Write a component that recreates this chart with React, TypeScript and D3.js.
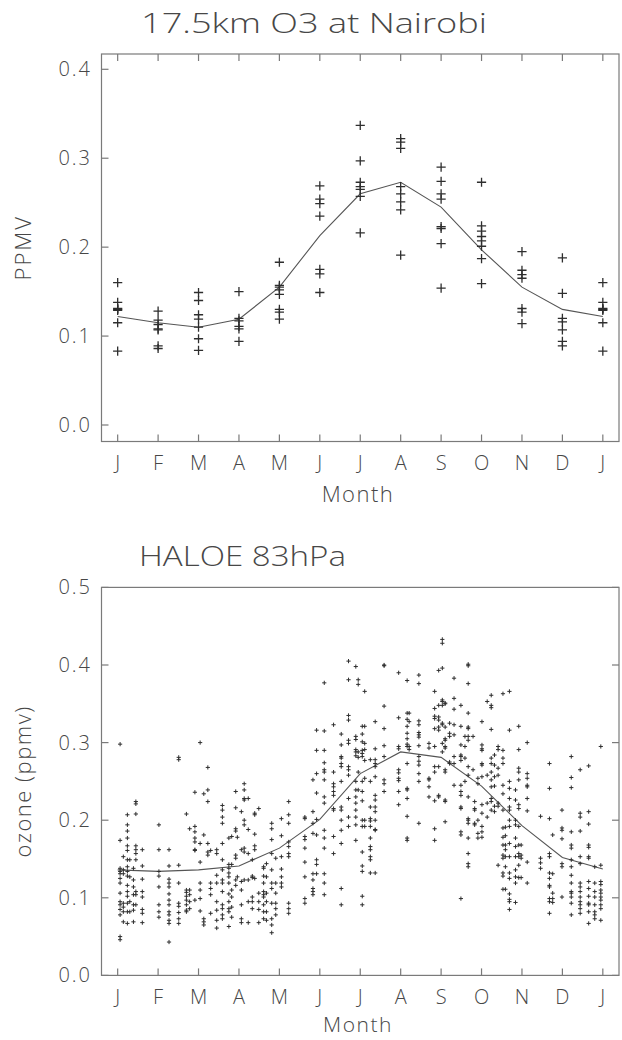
import React from "react";
import * as d3 from "d3";

const monthLabels = ["J", "F", "M", "A", "M", "J", "J", "A", "S", "O", "N", "D", "J"];

// Top panel: ozonesonde values at 17.5 km, Nairobi (ppmv), one list per month
const sondeJan = [0.160, 0.138, 0.131, 0.130, 0.129, 0.115, 0.083];
const sondeFeb = [0.128, 0.118, 0.113, 0.108, 0.107, 0.089, 0.086];
const sondeMar = [0.149, 0.140, 0.124, 0.119, 0.110, 0.097, 0.084];
const sondeApr = [0.150, 0.120, 0.117, 0.111, 0.108, 0.094];
const sondeMay = [0.183, 0.157, 0.155, 0.152, 0.147, 0.130, 0.127, 0.119];
const sondeJun = [0.269, 0.254, 0.249, 0.235, 0.175, 0.170, 0.149];
const sondeJul = [0.337, 0.297, 0.273, 0.268, 0.265, 0.257, 0.216];
const sondeAug = [0.322, 0.318, 0.311, 0.268, 0.260, 0.251, 0.242, 0.191];
const sondeSep = [0.290, 0.274, 0.260, 0.254, 0.223, 0.221, 0.204, 0.154];
const sondeOct = [0.273, 0.224, 0.218, 0.212, 0.207, 0.201, 0.187, 0.159];
const sondeNov = [0.195, 0.174, 0.169, 0.165, 0.131, 0.127, 0.114];
const sondeDec = [0.188, 0.148, 0.120, 0.116, 0.107, 0.094, 0.089];
const sondeByMonth = [sondeJan, sondeFeb, sondeMar, sondeApr, sondeMay, sondeJun, sondeJul,
  sondeAug, sondeSep, sondeOct, sondeNov, sondeDec, sondeJan];
const sondeMean = [0.122, 0.115, 0.110, 0.119, 0.155, 0.213, 0.260, 0.273, 0.245, 0.197, 0.155, 0.130, 0.122];

// Bottom panel: HALOE 83 hPa, columns of [month position, values]
const haloeJanMar: [number, number[]][] = [
  [0.06, [0.298, 0.174, 0.138, 0.134, 0.131, 0.125, 0.119, 0.106, 0.095, 0.091, 0.085, 0.078, 0.050, 0.046]],
  [0.14, [0.153, 0.136, 0.131, 0.093, 0.088, 0.082, 0.069]],
  [0.24, [0.207, 0.194, 0.186, 0.177, 0.167, 0.161, 0.149, 0.140, 0.134, 0.128, 0.116, 0.108, 0.102, 0.093, 0.082, 0.067]],
  [0.30, [0.149, 0.127, 0.095, 0.082]],
  [0.39, [0.138, 0.123, 0.114, 0.104, 0.091, 0.084, 0.069]],
  [0.45, [0.224, 0.221, 0.208, 0.167, 0.162, 0.157, 0.149, 0.108, 0.104, 0.091]],
  [0.61, [0.162, 0.141, 0.124, 0.108, 0.101, 0.085, 0.080, 0.068]],
  [1.02, [0.194, 0.162, 0.134, 0.128, 0.114, 0.091, 0.082, 0.075]],
  [1.27, [0.162, 0.141, 0.124, 0.119, 0.114, 0.105, 0.097, 0.091, 0.082, 0.078, 0.071, 0.067, 0.043]],
  [1.51, [0.281, 0.278, 0.142, 0.119, 0.093, 0.089, 0.081, 0.073, 0.067]],
  [1.70, [0.208, 0.110, 0.107, 0.102, 0.097, 0.091, 0.084, 0.082]],
  [1.78, [0.189, 0.110, 0.104, 0.095, 0.086]],
  [1.91, [0.236, 0.192, 0.185, 0.177, 0.172, 0.162, 0.161, 0.097]],
  [2.04, [0.300, 0.170, 0.146, 0.119, 0.110, 0.099, 0.083]],
  [2.13, [0.234, 0.181, 0.073, 0.069, 0.065]],
  [2.23, [0.268, 0.239, 0.224, 0.170, 0.159, 0.155]],
  [2.30, [0.161, 0.119, 0.112, 0.104, 0.080]],
  [2.45, [0.162, 0.157, 0.129, 0.119, 0.095, 0.084, 0.071, 0.061]],
  [2.59, [0.219, 0.213, 0.204, 0.196, 0.170, 0.149, 0.136, 0.123, 0.119, 0.108, 0.091, 0.086, 0.078, 0.073]],
  [2.75, [0.177, 0.143, 0.138, 0.132, 0.127, 0.119, 0.105, 0.095, 0.086, 0.082, 0.063]],
  [2.82, [0.179, 0.143, 0.110, 0.101, 0.088, 0.075]],
  [2.92, [0.237, 0.216, 0.189, 0.186, 0.155, 0.151, 0.123, 0.116]],
  [2.96, [0.178, 0.127]],
];
const haloeAprJun: [number, number[]][] = [
  [3.06, [0.211, 0.162, 0.121, 0.110, 0.091, 0.073, 0.068]],
  [3.13, [0.247, 0.239, 0.228, 0.226, 0.200, 0.194, 0.164, 0.159, 0.123]],
  [3.23, [0.228, 0.188, 0.157, 0.123, 0.095, 0.068]],
  [3.33, [0.149, 0.128, 0.126, 0.101, 0.095, 0.086]],
  [3.39, [0.209, 0.207, 0.182, 0.167, 0.162, 0.125]],
  [3.49, [0.215, 0.106, 0.095, 0.085, 0.068]],
  [3.61, [0.140, 0.138, 0.128, 0.119, 0.108, 0.104, 0.101, 0.091, 0.082, 0.073]],
  [3.68, [0.144, 0.127, 0.106, 0.095, 0.082, 0.071]],
  [3.81, [0.196, 0.189, 0.175, 0.157, 0.136, 0.119, 0.112, 0.093, 0.073, 0.065, 0.055]],
  [3.91, [0.151, 0.119, 0.106, 0.093, 0.086, 0.078]],
  [4.05, [0.202, 0.180, 0.153, 0.137, 0.127, 0.119, 0.114]],
  [4.23, [0.224, 0.207, 0.196, 0.172, 0.166, 0.157, 0.153, 0.093, 0.086, 0.080]],
  [4.63, [0.204, 0.202, 0.179, 0.175, 0.164, 0.146, 0.127, 0.099, 0.093]],
  [4.83, [0.252, 0.211, 0.196, 0.183, 0.131, 0.123, 0.112, 0.108, 0.104]],
  [4.92, [0.316, 0.290, 0.260, 0.235, 0.201, 0.181, 0.149, 0.143, 0.131]],
  [5.11, [0.377, 0.315, 0.290, 0.274, 0.265, 0.262, 0.252, 0.230, 0.222, 0.187, 0.177, 0.164, 0.131, 0.119, 0.104]],
  [5.34, [0.323, 0.262, 0.247, 0.243, 0.237, 0.232, 0.215, 0.213, 0.179, 0.157]],
  [5.53, [0.311, 0.297, 0.282, 0.280, 0.273, 0.269, 0.250, 0.217, 0.213, 0.200, 0.187, 0.170, 0.112, 0.091]],
  [5.71, [0.405, 0.381, 0.335, 0.329, 0.303, 0.299, 0.269, 0.265, 0.258, 0.228, 0.204, 0.192]],
  [5.89, [0.398, 0.308, 0.304, 0.291, 0.288, 0.283, 0.250, 0.239, 0.230, 0.222, 0.213, 0.204, 0.194, 0.174]],
  [5.95, [0.381, 0.375, 0.288, 0.281, 0.262, 0.239]],
];
const haloeJulSep: [number, number[]][] = [
  [6.05, [0.321, 0.311, 0.301, 0.290, 0.286, 0.282, 0.250, 0.237, 0.225, 0.200, 0.192, 0.159, 0.141, 0.134, 0.102, 0.091]],
  [6.11, [0.366, 0.321, 0.299, 0.291, 0.277, 0.254, 0.200, 0.192]],
  [6.25, [0.278, 0.250, 0.217, 0.202, 0.199, 0.192, 0.177, 0.166, 0.162, 0.153, 0.149, 0.132]],
  [6.37, [0.327, 0.292, 0.278, 0.273, 0.269, 0.256, 0.232, 0.226, 0.217, 0.211, 0.200, 0.188, 0.187, 0.132]],
  [6.59, [0.400, 0.399, 0.347, 0.318, 0.296, 0.282, 0.252, 0.247, 0.237]],
  [6.95, [0.390, 0.332, 0.295, 0.292, 0.265, 0.261, 0.254, 0.251, 0.237, 0.220]],
  [7.16, [0.380, 0.338, 0.330, 0.321, 0.312, 0.305, 0.298, 0.295, 0.273, 0.241, 0.239, 0.228, 0.205, 0.177, 0.174]],
  [7.21, [0.338, 0.327, 0.295, 0.291]],
  [7.45, [0.387, 0.376, 0.328, 0.323, 0.313, 0.310, 0.307, 0.296, 0.282, 0.276, 0.271, 0.260, 0.250, 0.196]],
  [7.70, [0.299, 0.293, 0.254, 0.252, 0.243, 0.230]],
  [7.84, [0.366, 0.344, 0.334, 0.331, 0.318, 0.295, 0.269, 0.262, 0.225, 0.189, 0.174]],
  [7.94, [0.393, 0.348, 0.333, 0.329, 0.320, 0.316, 0.269, 0.232, 0.230]],
  [8.03, [0.433, 0.428, 0.396, 0.355, 0.353, 0.348, 0.325, 0.323, 0.299, 0.288]],
  [8.10, [0.351, 0.350, 0.320, 0.305, 0.303, 0.295, 0.293, 0.265, 0.262, 0.226, 0.224, 0.198]],
  [8.21, [0.325, 0.312, 0.308, 0.275, 0.273]],
  [8.32, [0.383, 0.357, 0.343, 0.323, 0.310, 0.282, 0.273, 0.245]],
  [8.49, [0.348, 0.321, 0.297, 0.284, 0.282, 0.277, 0.245, 0.237, 0.232, 0.217, 0.215, 0.185, 0.181, 0.099]],
  [8.59, [0.308, 0.295, 0.280, 0.250]],
  [8.67, [0.401, 0.399, 0.376, 0.338, 0.320, 0.318, 0.308, 0.303, 0.269, 0.258, 0.230, 0.202, 0.200, 0.196, 0.177, 0.157, 0.144, 0.140]],
  [8.79, [0.308, 0.265]],
  [8.83, [0.224, 0.215, 0.213, 0.196, 0.194]],
  [8.91, [0.254, 0.247, 0.200, 0.183, 0.177]],
];
const haloeOctDec: [number, number[]][] = [
  [9.01, [0.327, 0.297, 0.292, 0.290, 0.273, 0.271, 0.256, 0.220, 0.209, 0.192, 0.185, 0.178]],
  [9.14, [0.353, 0.258, 0.222, 0.204]],
  [9.24, [0.361, 0.348, 0.345, 0.317, 0.280, 0.273, 0.262, 0.252, 0.243, 0.228, 0.224, 0.213]],
  [9.32, [0.284, 0.271, 0.256, 0.244, 0.218, 0.211]],
  [9.41, [0.295, 0.291, 0.267, 0.258, 0.222, 0.218, 0.142]],
  [9.53, [0.363, 0.290, 0.280, 0.273, 0.245, 0.234, 0.213, 0.190, 0.178, 0.168, 0.155, 0.151, 0.132, 0.128, 0.111]],
  [9.59, [0.191, 0.180, 0.168, 0.162, 0.153, 0.140, 0.111]],
  [9.69, [0.366, 0.316, 0.250, 0.241, 0.228, 0.217, 0.213, 0.200, 0.192, 0.170, 0.153, 0.132, 0.125, 0.105, 0.098, 0.095, 0.085]],
  [9.84, [0.239, 0.226, 0.200, 0.194, 0.177, 0.166, 0.153, 0.136, 0.127, 0.119, 0.094]],
  [9.92, [0.321, 0.291, 0.267, 0.262, 0.252, 0.220, 0.215, 0.192, 0.168, 0.157, 0.153, 0.142, 0.126]],
  [9.98, [0.168, 0.155, 0.151, 0.126]],
  [10.13, [0.300, 0.260, 0.254, 0.245, 0.243, 0.228, 0.212, 0.146, 0.119]],
  [10.46, [0.205, 0.151, 0.145, 0.138]],
  [10.68, [0.273, 0.241, 0.202, 0.157, 0.153, 0.132, 0.125, 0.116, 0.114, 0.099, 0.095, 0.080]],
  [10.76, [0.181, 0.131, 0.106, 0.099, 0.094]],
  [10.99, [0.213, 0.190, 0.187, 0.176, 0.144, 0.140, 0.101]],
  [11.22, [0.282, 0.255, 0.242, 0.185, 0.168, 0.164, 0.149, 0.140, 0.129, 0.119, 0.108, 0.106, 0.101, 0.093, 0.078]],
  [11.44, [0.265, 0.209, 0.204, 0.186, 0.153, 0.144, 0.119, 0.114, 0.108, 0.101, 0.095, 0.091, 0.086, 0.080]],
  [11.65, [0.270, 0.211, 0.195, 0.168, 0.165, 0.153, 0.151, 0.121, 0.112, 0.102, 0.093, 0.091, 0.082, 0.067]],
  [11.80, [0.140, 0.119, 0.108, 0.101, 0.091, 0.082, 0.078, 0.073]],
  [11.95, [0.295, 0.142, 0.121, 0.117, 0.110, 0.106, 0.101, 0.097, 0.091, 0.086, 0.071]],
];
const haloeMean = [0.136, 0.134, 0.136, 0.141, 0.164, 0.201, 0.260, 0.288, 0.281, 0.244, 0.193, 0.152, 0.137];

const topTicks = [0, 0.1, 0.2, 0.3, 0.4];
const bottomTicks = [0, 0.1, 0.2, 0.3, 0.4, 0.5];

const FONT = "'Open Sans', 'DejaVu Sans', sans-serif";
const TXT = "#474747";
const AX = "#7a7a7a";

const L = 101.5, R = 619;
const x = d3.scaleLinear().domain([-0.4, 12.4]).range([L, R]);
const months = d3.range(13);

export default function App() {
  const topT = 54, topB = 441.5;
  const yTop = d3.scaleLinear().domain([0, 0.4]).range([425, 69.3]);
  const botT = 587.4, botB = 975.4;
  const yBot = d3.scaleLinear().domain([0, 0.5]).range([botB, botT]);

  const lineTop = d3.line<number>().x((_, i) => x(i)).y((d) => yTop(d));
  const lineBot = d3.line<number>().x((_, i) => x(i)).y((d) => yBot(d));

  const plus = (cx: number, cy: number, s: number, key: string, sw: number) => (
    <path key={key} d={`M${cx - s},${cy}H${cx + s}M${cx},${cy - s}V${cy + s}`} stroke="#2e2e2e" strokeWidth={sw} fill="none" />
  );

  const sondeMarks: JSX.Element[] = [];
  sondeByMonth.forEach((vals, i) => vals.forEach((v, j) => sondeMarks.push(plus(x(i), yTop(v), 4.6, `s${i}-${j}`, 1.3))));

  const haloeMarks: JSX.Element[] = [];
  [haloeJanMar, haloeAprJun, haloeJulSep, haloeOctDec].forEach((grp, g) =>
    grp.forEach(([m, vals], c) => vals.forEach((v, j) => haloeMarks.push(plus(x(m), yBot(v), 2.1, `h${g}-${c}-${j}`, 1))))
  );

  return (
    <svg width={622} height={1040} style={{ position: "absolute", left: 0, top: 0, background: "#fff" }} fontFamily={FONT}>
      <rect x={0} y={0} width={622} height={1040} fill="#fff" />
      {/* ---------- Top panel ---------- */}
      <text x={141} y={32.5} fontSize={28} fill={TXT} textLength={346} lengthAdjust="spacingAndGlyphs" fontWeight={300}>17.5km O3 at Nairobi</text>
      <rect x={L} y={topT} width={R - L} height={topB - topT} fill="none" stroke={AX} strokeWidth={1.2} />
      {months.map((m) => (
        <g key={`tt${m}`} stroke={AX} strokeWidth={1.2}>
          <line x1={x(m)} x2={x(m)} y1={topB} y2={topB - 7} />
          <line x1={x(m)} x2={x(m)} y1={topT} y2={topT + 7} />
        </g>
      ))}
      {topTicks.map((t) => (
        <g key={`ty${t}`}>
          <line x1={L} x2={L + 7} y1={yTop(t)} y2={yTop(t)} stroke={AX} strokeWidth={1.2} />
          <text x={92} y={yTop(t) + 7} fontSize={20} fill={TXT} textAnchor="end" fontWeight={300} letterSpacing={2}>{t.toFixed(1)}</text>
        </g>
      ))}
      {monthLabels.map((lab, i) => (
        <text key={`tm${i}`} x={x(i)} y={469.5} fontSize={20} fill={TXT} textAnchor="middle" fontWeight={300}>{lab}</text>
      ))}
      <text x={358} y={502} fontSize={22} fill={TXT} textAnchor="middle" fontWeight={300} letterSpacing={1.5}>Month</text>
      <text transform={`translate(31,${(topT + topB) / 2}) rotate(-90)`} fontSize={22} fill={TXT} textAnchor="middle" fontWeight={300} letterSpacing={2}>PPMV</text>
      <path d={lineTop(sondeMean) || ""} fill="none" stroke="#555" strokeWidth={1.1} />
      {sondeMarks}

      {/* ---------- Bottom panel ---------- */}
      <text x={139} y={566} fontSize={28} fill={TXT} textLength={207} lengthAdjust="spacingAndGlyphs" fontWeight={300}>HALOE 83hPa</text>
      <rect x={L} y={botT} width={R - L} height={botB - botT} fill="none" stroke={AX} strokeWidth={1.2} />
      {months.map((m) => (
        <line key={`bt${m}`} x1={x(m)} x2={x(m)} y1={botB} y2={botB - 7} stroke={AX} strokeWidth={1.2} />
      ))}
      {bottomTicks.map((t) => (
        <g key={`by${t}`}>
          <line x1={L} x2={L + 7} y1={yBot(t)} y2={yBot(t)} stroke={AX} strokeWidth={1.2} />
          <line x1={R} x2={R - 7} y1={yBot(t)} y2={yBot(t)} stroke={AX} strokeWidth={1.2} />
          <text x={92} y={yBot(t) + 7} fontSize={20} fill={TXT} textAnchor="end" fontWeight={300} letterSpacing={2}>{t.toFixed(1)}</text>
        </g>
      ))}
      {monthLabels.map((lab, i) => (
        <text key={`bm${i}`} x={x(i)} y={1004} fontSize={20} fill={TXT} textAnchor="middle" fontWeight={300}>{lab}</text>
      ))}
      <text x={358} y={1032} fontSize={21} fill={TXT} textAnchor="middle" fontWeight={300} letterSpacing={1.5}>Month</text>
      <text transform={`translate(31,${(botT + botB) / 2}) rotate(-90)`} fontSize={22} fill={TXT} textAnchor="middle" fontWeight={300} letterSpacing={1.5}>ozone (ppmv)</text>
      <path d={lineBot(haloeMean) || ""} fill="none" stroke="#555" strokeWidth={1.1} />
      {haloeMarks}
    </svg>
  );
}
